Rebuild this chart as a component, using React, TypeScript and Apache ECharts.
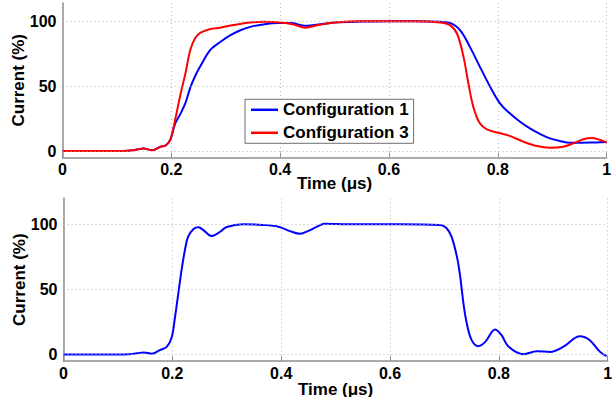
import React, { useEffect, useRef } from "react";
import * as echarts from "echarts";

const seriesNames = ["Configuration 1", "Configuration 3"];

const topBlueT = [0, 0.05, 0.1, 0.12, 0.135, 0.149, 0.165, 0.18, 0.19, 0.198, 0.207, 0.216, 0.226, 0.235, 0.244, 0.253, 0.272, 0.29, 0.308, 0.327, 0.345, 0.369, 0.397, 0.42, 0.446, 0.47, 0.5, 0.55, 0.6, 0.65, 0.694, 0.712, 0.731, 0.749, 0.767, 0.786, 0.804, 0.822, 0.841, 0.859, 0.878, 0.896, 0.914, 0.933, 0.951, 0.97, 0.988, 1.0];
const topBlueV = [0, 0, 0, 0.2, 1, 2, 0.6, 3.3, 4.4, 8.5, 21, 28, 37, 49, 58, 65, 78, 84, 89, 93, 95.6, 97.5, 98.5, 98.5, 96.4, 97.5, 99, 99.7, 100, 100, 99.5, 98.7, 93, 80, 65, 49.5, 36.7, 29, 22.5, 17.4, 13, 9.7, 7.7, 6.4, 6.4, 6.5, 6.7, 7.2];

const topRedT = [0, 0.05, 0.1, 0.12, 0.135, 0.149, 0.165, 0.18, 0.19, 0.198, 0.207, 0.216, 0.226, 0.235, 0.244, 0.253, 0.272, 0.29, 0.314, 0.345, 0.37, 0.4, 0.425, 0.446, 0.47, 0.5, 0.55, 0.6, 0.65, 0.694, 0.712, 0.725, 0.737, 0.746, 0.755, 0.767, 0.78, 0.801, 0.823, 0.847, 0.872, 0.896, 0.92, 0.939, 0.957, 0.973, 0.988, 1.0];
const topRedV = [0, 0, 0, 0.2, 1, 2, 0.6, 3.3, 4.4, 8.5, 24, 42, 60, 78, 87, 91, 94, 95, 97, 99, 99.5, 99, 97.5, 95, 97, 99, 100, 100, 100, 99, 97, 90.5, 72.5, 52, 34, 21.3, 16.7, 14, 11.5, 7.2, 3.8, 2.6, 3.3, 5.9, 9, 10, 8.5, 6.5];

const bottomT = [0, 0.05, 0.1, 0.12, 0.135, 0.148, 0.162, 0.177, 0.19, 0.199, 0.205, 0.211, 0.217, 0.223, 0.229, 0.239, 0.248, 0.257, 0.272, 0.288, 0.3, 0.33, 0.367, 0.395, 0.416, 0.435, 0.45, 0.465, 0.48, 0.526, 0.618, 0.692, 0.704, 0.713, 0.723, 0.729, 0.735, 0.741, 0.75, 0.762, 0.775, 0.793, 0.805, 0.817, 0.845, 0.87, 0.894, 0.918, 0.949, 0.967, 0.986, 0.998];
const bottomV = [0, 0, 0, 0.2, 1, 1.6, 0.6, 3.3, 6, 13.5, 29, 47, 65, 80, 90.5, 96.4, 97.7, 95.6, 91, 94.3, 98, 100, 99.5, 98.2, 94.8, 92.7, 95, 98, 100.5, 100, 100, 99.5, 97, 90.5, 75, 59.7, 39, 24, 11, 6.4, 9.7, 19.2, 14.8, 6.4, 0.2, 2.5, 2, 5.8, 14, 11, 2, -1.3];

const xTicks = [0, 0.2, 0.4, 0.6, 0.8, 1];
const yTicks = [0, 50, 100];

const pairs = (t: number[], v: number[]) => t.map((x, i) => [x, v[i]]);

const FONT = "'Liberation Sans', Arial, sans-serif";
const AXIS_COLOR = "#8f8f8f";
const GRID_COLOR = "#b5b5b5";

function makeX(gridIndex: number, nameGap: number) {
  return {
    type: "value",
    gridIndex,
    min: xTicks[0],
    max: xTicks[xTicks.length - 1],
    interval: 0.2,
    name: "Time (\u03bcs)",
    nameLocation: "middle",
    nameGap,
    nameMoveOverlap: false,
    nameTextStyle: { fontFamily: FONT, fontWeight: "bold", fontSize: 17, color: "#000" },
    axisLine: { show: true, onZero: false, lineStyle: { color: AXIS_COLOR, width: 1.5 } },
    axisTick: { show: true, inside: true, length: 5, lineStyle: { color: AXIS_COLOR } },
    axisLabel: { fontFamily: FONT, fontWeight: "bold", fontSize: 16, color: "#000", margin: 4 },
    splitLine: { show: true, lineStyle: { color: GRID_COLOR, type: [1, 3], width: 1 } },
  };
}

function makeY(gridIndex: number, max: number) {
  return {
    type: "value",
    gridIndex,
    min: -5,
    max,
    interval: 5,
    name: "Current (%)",
    nameLocation: "middle",
    nameGap: 36,
    nameRotate: 90,
    nameMoveOverlap: false,
    nameTextStyle: { fontFamily: FONT, fontWeight: "bold", fontSize: 17, color: "#000" },
    axisLine: { show: true, lineStyle: { color: AXIS_COLOR, width: 1.5 } },
    axisTick: { show: false },
    axisLabel: {
      fontFamily: FONT,
      fontWeight: "bold",
      fontSize: 16,
      color: "#000",
      margin: 6,
      formatter: (v: number) => (yTicks.indexOf(Math.round(v * 1000) / 1000) >= 0 ? String(Math.round(v)) : ""),
    },
    splitLine: { show: false },
  };
}

const hGrid = {
  silent: true,
  symbol: ["none", "none"],
  label: { show: false },
  lineStyle: { color: GRID_COLOR, type: [1, 3], width: 1 },
  data: yTicks.map((y) => ({ yAxis: y })),
  animation: false,
};

export default function App() {
  const ref = useRef<HTMLDivElement>(null);
  useEffect(() => {
    if (!ref.current) return;
    const chart = echarts.init(ref.current, null, { renderer: "svg" });
    chart.setOption({
      animation: false,
      backgroundColor: "#fff",
      grid: [
        { left: 62.5, right: 5.4, top: 3, height: 154.5, containLabel: false, outerBoundsMode: "none" },
        { left: 63.5, right: 4.3, top: 198.3, height: 162.7, containLabel: false, outerBoundsMode: "none" },
      ],
      xAxis: [makeX(0, 17), makeX(1, 20)],
      yAxis: [makeY(0, 114), makeY(1, 120)],
      legend: {
        data: seriesNames,
        orient: "vertical",
        left: 245,
        top: 99.3,
        itemWidth: 27,
        itemHeight: 2.5,
        icon: "rect",
        itemGap: 4,
        padding: [1, 5, 1, 6],
        borderColor: "#6e6e6e",
        borderWidth: 1,
        backgroundColor: "#fff",
        textStyle: { fontFamily: FONT, fontWeight: "bold", fontSize: 17, color: "#000", lineHeight: 19 },
      },
      series: [
        {
          name: seriesNames[0],
          type: "line",
          xAxisIndex: 0,
          yAxisIndex: 0,
          data: pairs(topBlueT, topBlueV),
          showSymbol: false,
          symbol: "none",
          smooth: 0.35,
          lineStyle: { color: "#0000ff", width: 2 },
          itemStyle: { color: "#0000ff" },
          markLine: hGrid,
          z: 3,
        },
        {
          name: seriesNames[1],
          type: "line",
          xAxisIndex: 0,
          yAxisIndex: 0,
          data: pairs(topRedT, topRedV),
          showSymbol: false,
          symbol: "none",
          smooth: 0.35,
          lineStyle: { color: "#ff0000", width: 2 },
          itemStyle: { color: "#ff0000" },
          z: 4,
        },
        {
          name: "Bottom",
          type: "line",
          xAxisIndex: 1,
          yAxisIndex: 1,
          data: pairs(bottomT, bottomV),
          showSymbol: false,
          symbol: "none",
          smooth: 0.35,
          lineStyle: { color: "#0000ff", width: 2 },
          itemStyle: { color: "#0000ff" },
          markLine: hGrid,
          z: 3,
        },
      ],
    });
    return () => chart.dispose();
  }, []);
  return (
    <div
      ref={ref}
      style={{ position: "fixed", left: 0, top: 0, width: 612, height: 397 }}
    />
  );
}
